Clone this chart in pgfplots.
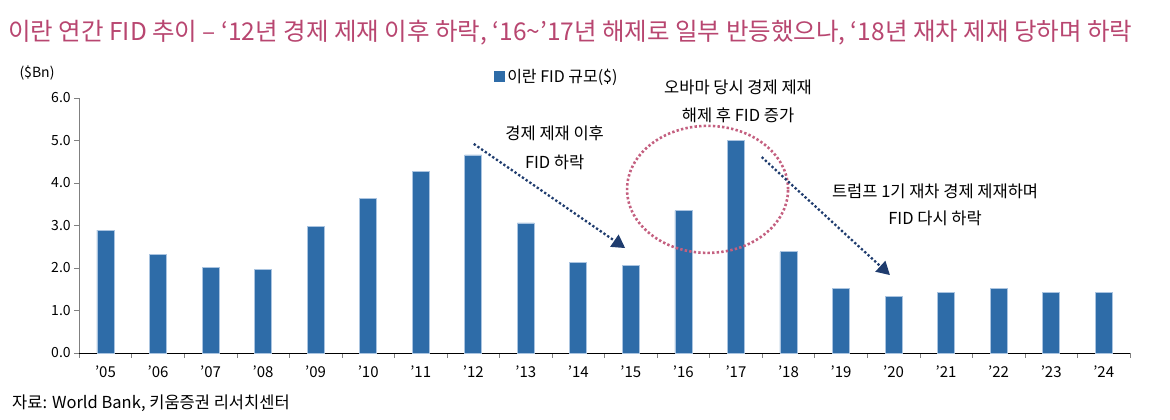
\documentclass[border=0pt]{standalone}
\usepackage{pgfplots}
\pgfplotsset{compat=1.18}
\usepackage{fontspec}
\setmainfont{Noto Sans CJK KR}
\usetikzlibrary{arrows.meta}
\definecolor{barblue}{RGB}{46,108,168}
\definecolor{baredge}{RGB}{170,196,224}
\definecolor{titlecol}{RGB}{184,70,112}
\definecolor{ellcol}{RGB}{196,96,128}
\definecolor{arrcol}{RGB}{31,60,110}
\newcommand{\fs}{\fontsize{14}{16}\selectfont}
\newcommand{\fa}{\fontsize{16.5}{19}\selectfont}
\tikzset{dotarrow/.style={arrcol, line width=2.3pt, dash pattern=on 2.3pt off 2.2pt, -{Triangle[length=13pt,width=15pt,fill=arrcol,line width=0pt]}}}
\begin{document}
\begin{tikzpicture}[x=1pt,y=1pt]
\path[use as bounding box] (0pt,0pt) rectangle (1170pt,420pt);
\node[anchor=west, text=titlecol, font=\fontsize{24.5}{28}\selectfont, inner sep=0] at (8pt,387pt) {이란 연간 FID 추이 – ‘12년 경제 제재 이후 하락, ‘16\textasciitilde’17년 해제로 일부 반등했으나, ‘18년 재차 제재 당하며 하락};
\node[font=\fs, inner sep=0] at (37pt,347pt) {(\$Bn)};
\node[anchor=west, font=\fa, inner sep=0] at (12pt,17pt) {자료: World Bank, 키움증권 리서치센터};
\begin{axis}[
  at={(79.2pt,67pt)}, anchor=south west, scale only axis,
  width=1050.8pt, height=255pt,
  xmin=-0.5, xmax=19.5, ymin=0, ymax=6,
  axis x line*=bottom, axis y line*=left,
  y axis line style={gray},
  x axis line style={black},
  ytick={0,1,2,3,4,5,6},
  yticklabel style={font=\fs, /pgf/number format/.cd, fixed, fixed zerofill, precision=1, assume math mode=true},
  xtick={-0.5,0.5,...,19.5},
  x tick label as interval,
  xticklabels={'05,'06,'07,'08,'09,'10,'11,'12,'13,'14,'15,'16,'17,'18,'19,'20,'21,'22,'23,'24},
  tick align=outside, major tick length=5pt,
  tick style={gray, line width=0.6pt},
  xticklabel style={font=\fontsize{15}{17}\selectfont, yshift=-4pt},
  legend style={at={(0.395,1.086)}, anchor=west, draw=none, fill=none, font=\fontsize{16}{18}\selectfont, inner sep=0pt},
  legend image code/.code={\fill[barblue] (0pt,-5pt) rectangle (10pt,5pt);},
  clip=false,
]
\addplot[ybar, bar width=17pt, fill=barblue, draw=baredge, line width=0.8pt] coordinates {
(0,2.89) (1,2.31) (2,2.01) (3,1.97) (4,2.97) (5,3.64) (6,4.27) (7,4.66) (8,3.06) (9,2.12)
(10,2.05) (11,3.35) (12,5.01) (13,2.38) (14,1.51) (15,1.33) (16,1.43) (17,1.51) (18,1.43) (19,1.43)};
\addlegendentry{이란 FID 규모(\$)}
\node[font=\fa] at (axis cs:8.55,5.18) {경제 제재 이후};
\node[font=\fa] at (axis cs:8.55,4.49) {FID 하락};
\draw[dotarrow] (axis cs:7.01,4.92) -- (axis cs:9.89,2.47);
\node[font=\fa] at (axis cs:12.04,6.24) {오바마 당시 경제 제재};
\node[font=\fa] at (axis cs:12.04,5.6) {해제 후 FID 증가};
\draw[ellcol, line width=2.6pt, dash pattern=on 2.4pt off 2.2pt] (axis cs:11.46,3.85) ellipse [x radius=80.5pt, y radius=63.5pt];
\draw[dotarrow] (axis cs:12.49,4.61) -- (axis cs:14.93,1.835);
\node[font=\fa] at (axis cs:15.79,3.81) {트럼프 1기 재차 경제 제재하며};
\node[font=\fa] at (axis cs:15.79,3.18) {FID 다시 하락};
\end{axis}
\end{tikzpicture}
\end{document}
